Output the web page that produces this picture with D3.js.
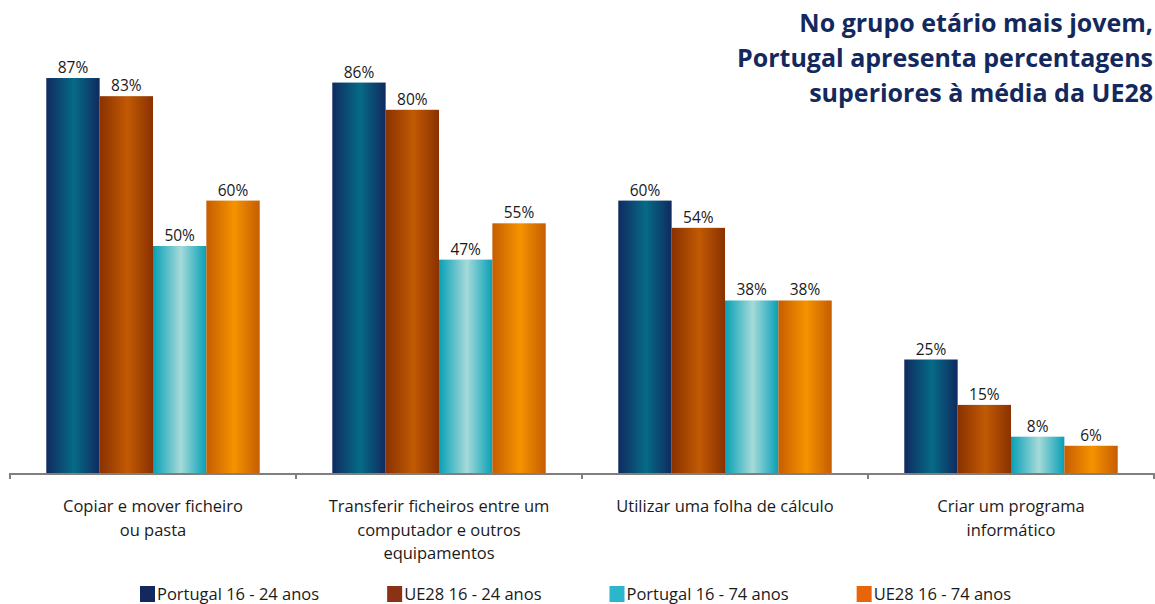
<!DOCTYPE html>
<meta charset="utf-8">
<head>
<script src="https://d3js.org/d3.v7.min.js"></script>
<style>
  body { margin: 0; background: #fff; }
  text { font-family: "Open Sans", Lato, sans-serif; }
</style>
</head>
<body>
<div id="chart"></div>
<script>
  // categories (with the line breaks used in the original)
  const categories = [
    ["Copiar e mover ficheiro", "ou pasta"],
    ["Transferir ficheiros entre um", "computador e outros", "equipamentos"],
    ["Utilizar uma folha de cálculo"],
    ["Criar um programa", "informático"]
  ];
  const series = ["Portugal 16 - 24 anos", "UE28 16 - 24 anos", "Portugal 16 - 74 anos", "UE28 16 - 74 anos"];

  // values in %, one array per series
  const pt1624 = [87, 86, 60, 25];
  const ue1624 = [83, 80, 54, 15];
  const pt1674 = [50, 47, 38, 8];
  const ue1674 = [60, 55, 38, 6];
  const values = [pt1624, ue1624, pt1674, ue1674];

  const titleLines = ["No grupo etário mais jovem,", "Portugal apresenta percentagens", "superiores à média da UE28"];

  // colours: bar gradients [edge, centre] and legend swatches
  const gradColors = [["#102a60", "#066b86"], ["#8a3100", "#c15a04"], ["#07a0b6", "#a6dada"], ["#c65d00", "#f59300"]];
  const legendColors = ["#13285f", "#8b3214", "#2bb6cc", "#e8650c"];

  const W = 1155, H = 604;
  const svg = d3.select("#chart").append("svg")
    .attr("width", W).attr("height", H);

  const defs = svg.append("defs");
  gradColors.forEach((c, i) => {
    const g = defs.append("linearGradient")
      .attr("id", "grad" + i)
      .attr("x1", 0).attr("x2", 1).attr("y1", 0).attr("y2", 0);
    g.append("stop").attr("offset", "0%").attr("stop-color", c[0]);
    g.append("stop").attr("offset", "52%").attr("stop-color", c[1]);
    g.append("stop").attr("offset", "100%").attr("stop-color", c[0]);
  });

  // scales
  const x0 = d3.scaleBand()
    .domain(d3.range(categories.length))
    .range([10, 1154]);
  const x1 = d3.scaleBand()
    .domain(d3.range(series.length))
    .range([0, x0.bandwidth()])
    .paddingOuter(0.68);
  const y = d3.scaleLinear()
    .domain([0, 100])
    .range([473, 19]);

  // bars
  const groups = svg.selectAll("g.grp")
    .data(categories)
    .join("g")
      .attr("class", "grp")
      .attr("transform", (d, i) => `translate(${x0(i)},0)`);

  groups.selectAll("rect")
    .data((d, i) => values.map((s, j) => ({s: j, v: s[i]})))
    .join("rect")
      .attr("x", d => x1(d.s))
      .attr("y", d => y(d.v))
      .attr("width", x1.bandwidth())
      .attr("height", d => y(0) - y(d.v))
      .attr("fill", d => `url(#grad${d.s})`);

  groups.selectAll("text.val")
    .data((d, i) => values.map((s, j) => ({s: j, v: s[i]})))
    .join("text")
      .attr("class", "val")
      .attr("x", d => x1(d.s) + x1.bandwidth() / 2)
      .attr("y", d => y(d.v) - 5)
      .attr("text-anchor", "middle")
      .style("font-size", "15.5px")
      .style("fill", "#1a1a1a")
      .text(d => d.v + "%");

  // x axis
  const xAxis = svg.append("g");
  xAxis.append("line")
    .attr("x1", x0.range()[0]).attr("x2", x0.range()[1])
    .attr("y1", y(0) + 1).attr("y2", y(0) + 1)
    .attr("stroke", "#7f7f7f").attr("stroke-width", 2);
  const tickPos = d3.range(categories.length + 1).map(i => x0.range()[0] + i * x0.step());
  xAxis.selectAll("line.tick")
    .data(tickPos)
    .join("line")
      .attr("class", "tick")
      .attr("x1", d => d).attr("x2", d => d)
      .attr("y1", y(0)).attr("y2", y(0) + 6)
      .attr("stroke", "#7f7f7f").attr("stroke-width", 2);

  const labels = svg.selectAll("text.cat")
    .data(categories)
    .join("text")
      .attr("class", "cat")
      .attr("text-anchor", "middle")
      .attr("y", 512)
      .style("font-size", "16.5px")
      .style("fill", "#1a1a1a");
  labels.selectAll("tspan")
    .data((d, i) => d.map(line => ({line, i})))
    .join("tspan")
      .attr("x", d => x0(d.i) + x0.bandwidth() / 2)
      .attr("dy", (d, k) => k === 0 ? 0 : 23.5)
      .text(d => d.line);

  // legend
  const legend = svg.append("g");
  let lx = 140;
  series.forEach((s, i) => {
    legend.append("rect")
      .attr("x", lx).attr("y", 586)
      .attr("width", 15).attr("height", 16)
      .attr("fill", legendColors[i]);
    const t = legend.append("text")
      .attr("x", lx + 17).attr("y", 600)
      .style("font-size", "16.5px")
      .style("fill", "#1a1a1a")
      .text(s);
    lx += 17 + t.node().getComputedTextLength() + 68;
  });

  // title
  svg.append("text")
    .attr("text-anchor", "end")
    .attr("y", 32)
    .style("font-size", "25px")
    .style("font-weight", "bold")
    .style("fill", "#13295e")
    .selectAll("tspan")
    .data(titleLines)
    .join("tspan")
      .attr("x", 1153)
      .attr("dy", (d, i) => i === 0 ? 0 : 35)
      .text(d => d);
</script>
</body>
